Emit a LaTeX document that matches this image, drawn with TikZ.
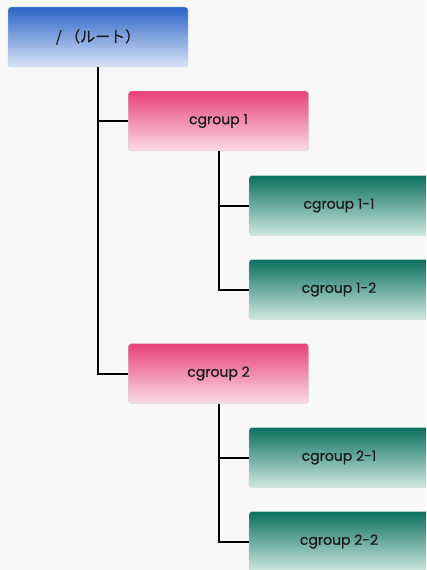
\documentclass[tikz,border=0pt]{standalone}
\usepackage{fontspec}
\setmainfont{Poppins}[FakeBold=0.6]
\newfontfamily\jpfont{Noto Sans CJK JP}[FakeBold=0.4]
\definecolor{bgc}{HTML}{F8F8F8}
\definecolor{blueT}{HTML}{2C64C8}
\definecolor{blueB}{HTML}{D8E3F6}
\definecolor{pinkT}{HTML}{E8407A}
\definecolor{pinkB}{HTML}{FADCE7}
\definecolor{tealT}{HTML}{0A705E}
\definecolor{tealB}{HTML}{D0E8E1}
\definecolor{edge}{HTML}{D0D0D0}
\definecolor{ink}{HTML}{1A1A1A}
\begin{document}
\begin{tikzpicture}[x=1pt,y=-1pt,
  box/.style={draw=edge, line width=0.4pt, rounded corners=3pt,
    minimum width=180pt, minimum height=60pt, inner sep=0pt,
    font=\fontsize{14}{16}\selectfont, text=ink},
  rootbox/.style={box, top color=blueT, bottom color=blueB},
  groupbox/.style={box, top color=pinkT, bottom color=pinkB},
  leafbox/.style={box, top color=tealT, bottom color=tealB},
  link/.style={line width=2pt, black}]
  \fill[bgc] (0,0) rectangle (426,570);
  \useasboundingbox (0,0) rectangle (426,570);
  \begin{scope}
    \clip (0,0) rectangle (426,570);
    \node[rootbox] (root) at (98,37) {\jpfont\fontsize{15}{17}\selectfont / （ルート）};
    \node[groupbox] (c1) at (218.5,121) {cgroup 1};
    \node[leafbox] (c11) at (339,205.5) {cgroup 1-1};
    \node[leafbox] (c12) at (339,289.5) {cgroup 1-2};
    \node[groupbox] (c2) at (218.5,373.5) {cgroup 2};
    \node[leafbox] (c21) at (339,457.5) {cgroup 2-1};
    \node[leafbox] (c22) at (339,541.5) {cgroup 2-2};
    % tree connectors
    \draw[link] (root.south) |- (c1.west);
    \draw[link] (root.south) |- (c2.west);
    \draw[link] (c1.south) |- (c11.west);
    \draw[link] (c1.south) |- (c12.west);
    \draw[link] (c2.south) |- (c21.west);
    \draw[link] (c2.south) |- (c22.west);
  \end{scope}
\end{tikzpicture}
\end{document}
